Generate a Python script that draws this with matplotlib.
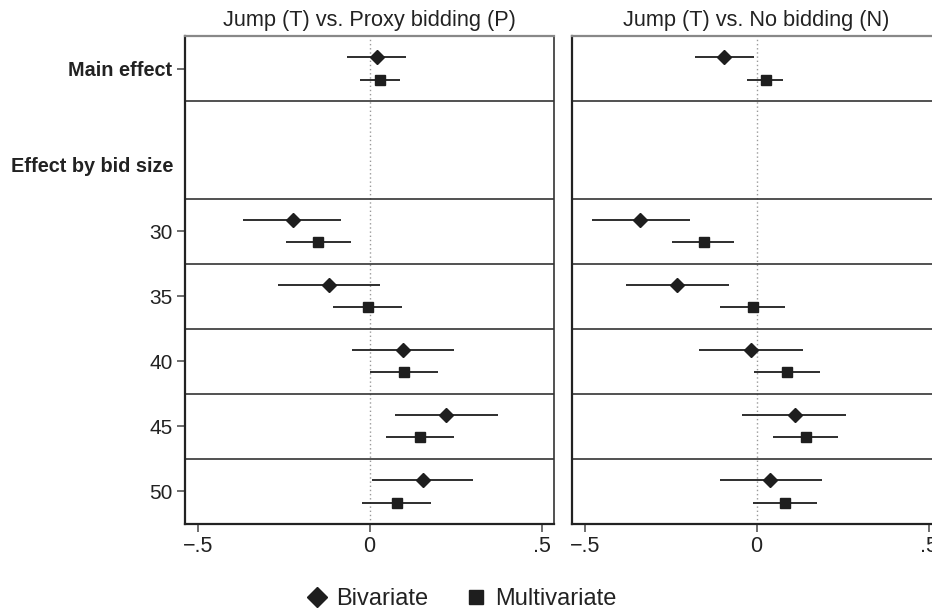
import matplotlib
matplotlib.use("Agg")
import matplotlib.pyplot as plt
from matplotlib.lines import Line2D

plt.rcParams['font.family'] = ['Liberation Sans', 'DejaVu Sans']

# data: point estimates and 95% CIs (rows: main effect, bid size 30..50)
row_labels = ["Main effect", "30", "35", "40", "45", "50"]
row_pos = [0, 2.5, 3.5, 4.5, 5.5, 6.5]
titles = ["Jump (T) vs. Proxy bidding (P)", "Jump (T) vs. No bidding (N)"]

# left panel: T vs P
biv_p = [0.022, -0.224, -0.118, 0.097, 0.223, 0.154]
biv_p_lo = [-0.065, -0.367, -0.268, -0.052, 0.074, 0.007]
biv_p_hi = [0.107, -0.082, 0.031, 0.246, 0.373, 0.301]
mul_p = [0.030, -0.151, -0.005, 0.100, 0.146, 0.079]
mul_p_lo = [-0.029, -0.244, -0.106, 0.000, 0.047, -0.021]
mul_p_hi = [0.088, -0.055, 0.094, 0.199, 0.246, 0.179]

# right panel: T vs N
biv_n = [-0.094, -0.338, -0.232, -0.017, 0.110, 0.040]
biv_n_lo = [-0.178, -0.480, -0.381, -0.167, -0.042, -0.108]
biv_n_hi = [-0.008, -0.194, -0.081, 0.135, 0.260, 0.190]
mul_n = [0.026, -0.154, -0.012, 0.087, 0.142, 0.081]
mul_n_lo = [-0.028, -0.245, -0.106, -0.007, 0.047, -0.011]
mul_n_hi = [0.078, -0.065, 0.083, 0.183, 0.236, 0.175]

panels = [
    (biv_p, biv_p_lo, biv_p_hi, mul_p, mul_p_lo, mul_p_hi),
    (biv_n, biv_n_lo, biv_n_hi, mul_n, mul_n_lo, mul_n_hi),
]

ink = "#1e1e1e"
W, H = 932, 613
fig = plt.figure(figsize=(W / 100, H / 100), dpi=100)
fig.set_facecolor("white")

ax_w = 369 / W
ax_b = 1 - 524 / H
ax_h = (524 - 36) / H
lefts = [185 / W, 572 / W]

off = 0.17
for i, (bv, bl, bh, mv, ml, mh) in enumerate(panels):
    ax = fig.add_axes([lefts[i], ax_b, ax_w, ax_h])
    ax.set_xlim(-0.537, 0.536)
    ax.set_ylim(7, -0.5)

    ax.axvline(0, color="#999999", lw=1.0, ls=(0, (1, 2)), zorder=1)
    for y in [0.5, 2, 3, 4, 5, 6]:
        ax.axhline(y, color="#333333", lw=1.2, zorder=1)

    yb = [p - off for p in row_pos]
    ym = [p + off for p in row_pos]
    ax.hlines(yb, bl, bh, color=ink, lw=1.3, zorder=2)
    ax.hlines(ym, ml, mh, color=ink, lw=1.3, zorder=2)
    ax.plot(bv, yb, ls="none", marker="D", ms=7.2, color=ink, zorder=3)
    ax.plot(mv, ym, ls="none", marker="s", ms=7.8, color=ink, zorder=3)

    ax.set_title(titles[i], fontsize=15.7, color="#222222", pad=7)

    ax.set_xticks([-0.5, 0, 0.5])
    ax.set_xticklabels(["\u2212.5", "0", ".5"], fontsize=15.5, color="#222222")
    ax.tick_params(axis="x", length=6, width=1.2, color="#555555", pad=3)

    for s in ["left", "bottom"]:
        ax.spines[s].set_color("#222222")
        ax.spines[s].set_linewidth(1.6)
    ax.spines["top"].set_color("#888888")
    ax.spines["top"].set_linewidth(1.6)
    ax.spines["right"].set_color("#333333")
    ax.spines["right"].set_linewidth(1.2)

    if i == 0:
        ax.set_yticks(row_pos)
        ax.set_yticklabels(row_labels, fontsize=15, color="#222222")
        ax.get_yticklabels()[0].set_fontweight("bold")
        ax.get_yticklabels()[0].set_fontsize(14.3)
        ax.tick_params(axis="y", length=6, width=1.2, color="#555555", pad=3)
        ax.text(-0.032, 1.5, "Effect by bid size", transform=ax.get_yaxis_transform(),
                ha="right", va="center", fontsize=14.3, fontweight="bold", color="#222222")
    else:
        ax.set_yticks([])

handles = [
    Line2D([], [], ls="none", marker="D", ms=10, color=ink, label="Bivariate"),
    Line2D([], [], ls="none", marker="s", ms=10, color=ink, label="Multivariate"),
]
fig.legend(handles=handles, loc="lower center", bbox_to_anchor=(0.495, -0.03), ncol=2,
           frameon=False, fontsize=17, handlelength=0.9, handletextpad=0.35,
           columnspacing=1.6, labelcolor="#222222")

fig.savefig("out.png", dpi=100)
